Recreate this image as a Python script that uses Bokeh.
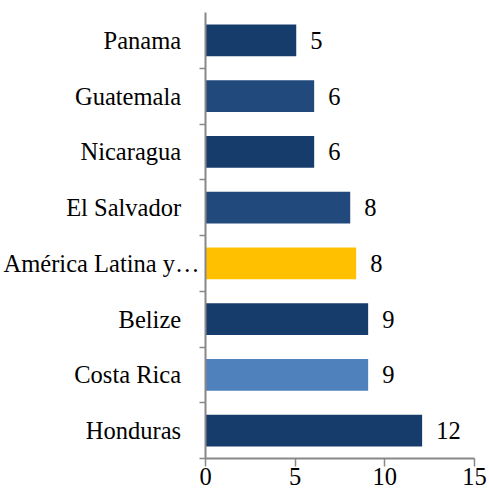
from bokeh.plotting import figure
from bokeh.models import Range1d, FixedTicker, ColumnDataSource
from bokeh.core.properties import value
from bokeh.embed import file_html
from bokeh.resources import INLINE

# ---- data (top to bottom) ----
categories = ["Panama", "Guatemala", "Nicaragua", "El Salvador",
              "América Latina y…", "Belize", "Costa Rica", "Honduras"]
values = [5.06, 6.06, 6.06, 8.07, 8.4, 9.07, 9.07, 12.08]
value_labels = ["5", "6", "6", "8", "8", "9", "9", "12"]
x_ticks = [0, 5, 10, 15]

# ---- styles ----
bar_colors = ["#163c6c", "#22497c", "#163c6c", "#22497c",
              "#ffc000", "#163c6c", "#4f81bd", "#163c6c"]
FONT = "Liberation Serif"
FSIZE = "24.5px"
AXIS_COLOR = "#888888"
NBSP = "\u00a0"

n = len(categories)
ys = list(range(1, n + 1))

source = ColumnDataSource(dict(y=ys, v=values, lab=value_labels, color=bar_colors))

p = figure(width=489, height=496,
           x_range=Range1d(0, 15), y_range=Range1d(n + 0.5, 0.5),
           output_backend="svg", toolbar_location=None,
           min_border_left=205, min_border_right=15,
           min_border_top=12, min_border_bottom=38)

p.hbar(y="y", left=0, right="v", height=0.57, fill_color="color",
       line_color=None, source=source)

p.text(x="v", y="y", text="lab", source=source, x_offset=14,
       text_align="left", text_baseline="middle",
       text_font=value(FONT), text_font_size=FSIZE, text_color="#000000")

# y axis: labels at category centres, ticks at category boundaries
p.yaxis.ticker = FixedTicker(ticks=ys, minor_ticks=[y + 0.5 for y in ys])
overrides = {}
for y, c in zip(ys, categories):
    # the truncated long label sits closer to the axis, as in the original
    overrides[y] = c if c.endswith("…") else c + NBSP * 3
p.yaxis.major_label_overrides = overrides
p.yaxis.major_tick_line_color = None
p.yaxis.major_tick_out = 0
p.yaxis.major_tick_in = 0
p.yaxis.minor_tick_line_color = AXIS_COLOR
p.yaxis.minor_tick_line_width = 1.5
p.yaxis.minor_tick_out = 6
p.yaxis.minor_tick_in = 0
p.yaxis.major_label_standoff = 0

p.xaxis.ticker = FixedTicker(ticks=x_ticks)
p.xaxis.major_tick_out = 8
p.xaxis.major_tick_in = 0
p.xaxis.minor_tick_line_color = None
p.xaxis.major_tick_line_color = AXIS_COLOR
p.xaxis.major_tick_line_width = 1.5
p.xaxis.major_label_standoff = 1

for ax in (p.xaxis, p.yaxis):
    ax.axis_line_color = AXIS_COLOR
    ax.axis_line_width = 2
    ax.major_label_text_font = FONT
    ax.major_label_text_font_size = FSIZE
    ax.major_label_text_color = "#000000"

p.grid.visible = False
p.outline_line_color = None
p.background_fill_color = "white"
p.border_fill_color = "white"

open("out.html", "w").write(file_html(p, INLINE))
